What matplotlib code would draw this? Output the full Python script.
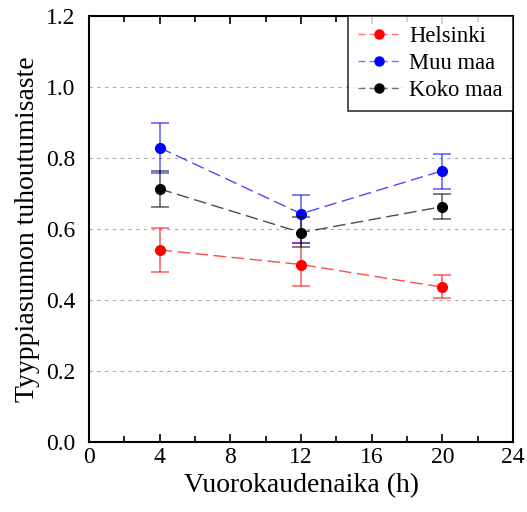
import matplotlib
matplotlib.use("Agg")
import matplotlib.pyplot as plt
from matplotlib.ticker import MultipleLocator
from matplotlib.colors import to_rgba

plt.rcParams['font.family'] = ['Liberation Serif', 'DejaVu Serif']

hours = [4, 12, 20]
helsinki = [0.541, 0.500, 0.436]
helsinki_lo = [0.478, 0.440, 0.405]
helsinki_hi = [0.603, 0.560, 0.470]
muu = [0.829, 0.643, 0.764]
muu_lo = [0.758, 0.560, 0.713]
muu_hi = [0.900, 0.696, 0.812]
koko = [0.713, 0.590, 0.663]
koko_lo = [0.662, 0.550, 0.628]
koko_hi = [0.764, 0.634, 0.699]

fig = plt.figure(figsize=(5.27, 5.12), dpi=100)
ax = fig.add_axes([89/527, 1-442/512, (513-89)/527, (442-16)/512])

series = [
    ("Helsinki", helsinki, helsinki_lo, helsinki_hi, "red"),
    ("Muu maa", muu, muu_lo, muu_hi, "blue"),
    ("Koko maa", koko, koko_lo, koko_hi, "black"),
]
for name, v, lo, hi, c in series:
    yerr = [[a - b for a, b in zip(v, lo)], [b - a for a, b in zip(v, hi)]]
    ax.errorbar(hours, v, yerr=yerr, fmt='none', ecolor=c, alpha=0.55,
                capsize=6.5, elinewidth=1.3, capthick=1.3)
    ax.plot(hours, v, linestyle=(0, (9, 4)), color=c, alpha=0.7, linewidth=1.0)
    ax.plot(hours, v, 'o', color=c, markersize=7)
    ax.plot([], [], linestyle=(0, (5, 3)), marker='o', color=to_rgba(c, 0.55),
            markerfacecolor=c, markeredgecolor=c, markersize=6.5,
            linewidth=1.0, label=name)

ax.set_xlim(0, 24)
ax.set_ylim(0, 1.2)
ax.xaxis.set_major_locator(MultipleLocator(4))
ax.xaxis.set_minor_locator(MultipleLocator(2))
ax.yaxis.set_major_locator(MultipleLocator(0.2))
ax.set_yticklabels([f"{t:.1f}" for t in ax.get_yticks()])
ax.tick_params(axis='x', which='both', direction='in', top=True, labelsize=17)
ax.tick_params(axis='x', which='major', length=6, width=1.2)
ax.tick_params(axis='x', which='minor', length=4, width=1.2)
ax.tick_params(axis='y', which='both', length=0, labelsize=17, pad=10)
ax.grid(axis='y', linestyle=(0, (3, 4)), color='#aaaaaa', linewidth=0.8)
for s in ax.spines.values():
    s.set_linewidth(1.5)
ax.set_xlabel("Vuorokaudenaika (h)", fontsize=20)
ax.set_ylabel("Tyyppiasunnon tuhoutumisaste", fontsize=20)

handles, labels = ax.get_legend_handles_labels()
leg = ax.legend(handles, labels, loc='upper right', fontsize=16.3,
                frameon=True, fancybox=False, edgecolor='black',
                handlelength=1.8, handletextpad=0.45, borderpad=0.45,
                borderaxespad=0.0, labelspacing=0.25)
leg.get_frame().set_linewidth(1.2)

fig.savefig("out.png", dpi=100)
